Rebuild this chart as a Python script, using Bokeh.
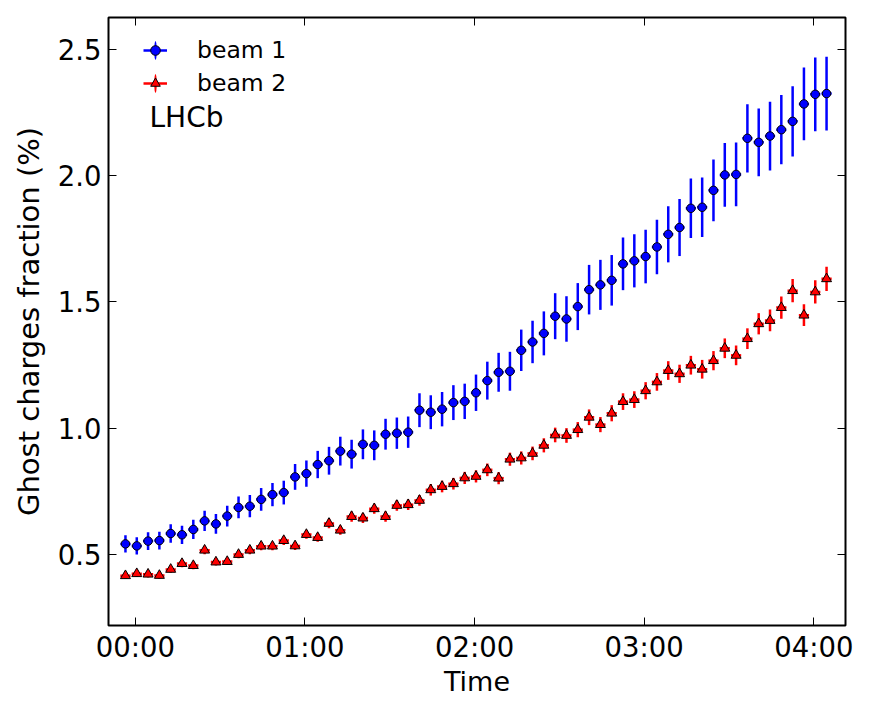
import math
from bokeh.plotting import figure
from bokeh.models import (ColumnDataSource, FixedTicker, LinearAxis, Range1d,
                          Legend, LegendItem, Label)
from bokeh.embed import file_html
from bokeh.resources import INLINE

# ---- data (time in minutes after 00:00) ----
time_min = [-3.5, 0.5, 4.5, 8.5, 12.5, 16.5, 20.5, 24.5, 28.5, 32.5, 36.5, 40.5,
            44.5, 48.5, 52.5, 56.5, 60.5, 64.5, 68.5, 72.5, 76.5, 80.5, 84.5, 88.5,
            92.5, 96.5, 100.5, 104.5, 108.5, 112.5, 116.5, 120.5, 124.5, 128.5,
            132.5, 136.5, 140.5, 144.5, 148.5, 152.5, 156.5, 160.5, 164.5, 168.5,
            172.5, 176.5, 180.5, 184.5, 188.5, 192.5, 196.5, 200.5, 204.5, 208.5,
            212.5, 216.5, 220.5, 224.5, 228.5, 232.5, 236.5, 240.5, 244.5]
time_halfwidth = [1.8] * len(time_min)

beam1 = [0.542, 0.534, 0.553, 0.555, 0.583, 0.578, 0.599, 0.633, 0.621, 0.652,
         0.686, 0.691, 0.718, 0.737, 0.745, 0.807, 0.820, 0.856, 0.871, 0.909,
         0.897, 0.936, 0.932, 0.976, 0.980, 0.984, 1.071, 1.063, 1.075, 1.101,
         1.106, 1.140, 1.188, 1.221, 1.225, 1.308, 1.341, 1.375, 1.443, 1.432,
         1.481, 1.548, 1.567, 1.585, 1.650, 1.662, 1.679, 1.717, 1.767, 1.794,
         1.870, 1.874, 1.941, 2.002, 2.004, 2.147, 2.131, 2.156, 2.181, 2.214,
         2.283, 2.321, 2.324]
beam1_err = [0.034, 0.034, 0.035, 0.035, 0.037, 0.036, 0.038, 0.040, 0.039, 0.041,
             0.043, 0.044, 0.045, 0.046, 0.047, 0.051, 0.052, 0.054, 0.055, 0.057,
             0.057, 0.059, 0.059, 0.061, 0.062, 0.062, 0.067, 0.067, 0.068, 0.069,
             0.070, 0.072, 0.075, 0.077, 0.077, 0.082, 0.084, 0.087, 0.091, 0.090,
             0.093, 0.098, 0.099, 0.100, 0.104, 0.105, 0.106, 0.108, 0.111, 0.113,
             0.118, 0.118, 0.122, 0.126, 0.126, 0.135, 0.134, 0.136, 0.137, 0.139,
             0.144, 0.146, 0.146]

beam2 = [0.416, 0.424, 0.422, 0.417, 0.441, 0.464, 0.456, 0.517, 0.470, 0.472,
         0.500, 0.517, 0.533, 0.533, 0.555, 0.534, 0.579, 0.567, 0.623, 0.596,
         0.650, 0.644, 0.681, 0.650, 0.694, 0.697, 0.714, 0.756, 0.769, 0.780,
         0.803, 0.809, 0.835, 0.802, 0.877, 0.882, 0.900, 0.932, 0.973, 0.971,
         0.994, 1.043, 1.014, 1.059, 1.105, 1.113, 1.148, 1.183, 1.228, 1.215,
         1.249, 1.233, 1.267, 1.316, 1.288, 1.354, 1.413, 1.426, 1.477, 1.544,
         1.447, 1.539, 1.591]
beam2_err = [0.012, 0.013, 0.013, 0.013, 0.013, 0.014, 0.014, 0.016, 0.014, 0.014,
             0.015, 0.016, 0.016, 0.016, 0.017, 0.016, 0.017, 0.017, 0.019, 0.018,
             0.020, 0.019, 0.020, 0.020, 0.021, 0.021, 0.021, 0.023, 0.023, 0.023,
             0.024, 0.024, 0.025, 0.024, 0.026, 0.026, 0.027, 0.028, 0.029, 0.029,
             0.030, 0.031, 0.030, 0.032, 0.033, 0.033, 0.034, 0.035, 0.037, 0.036,
             0.037, 0.037, 0.038, 0.039, 0.039, 0.041, 0.042, 0.043, 0.044, 0.046,
             0.043, 0.046, 0.048]

x_ticks = [0, 60, 120, 180, 240]
x_tick_labels = ["00:00", "01:00", "02:00", "03:00", "04:00"]
y_ticks = [0.5, 1.0, 1.5, 2.0, 2.5]
y_tick_labels = ["0.5", "1.0", "1.5", "2.0", "2.5"]

series_labels = ["beam 1", "beam 2"]

FONT = "DejaVu Sans"
BLUE = "#0000ff"
RED = "#ff0000"


def make_source(vals, errs):
    return ColumnDataSource(dict(
        t=time_min, v=vals,
        lo=[v - e for v, e in zip(vals, errs)],
        hi=[v + e for v, e in zip(vals, errs)],
        tl=[t - h for t, h in zip(time_min, time_halfwidth)],
        tr=[t + h for t, h in zip(time_min, time_halfwidth)],
    ))


p = figure(width=860, height=700, output_backend="svg", toolbar_location=None,
           x_range=Range1d(-9.5, 251.2), y_range=Range1d(0.219, 2.625),
           min_border_left=108, min_border_right=15, min_border_top=17,
           min_border_bottom=75)
p.grid.visible = False
p.background_fill_color = "white"
p.border_fill_color = "white"
p.outline_line_color = "black"
p.outline_line_width = 2
p.outline_line_alpha = 1.0

# main axes
xax = p.xaxis[0]
yax = p.yaxis[0]
xax.ticker = FixedTicker(ticks=x_ticks)
xax.major_label_overrides = {t: l for t, l in zip(x_ticks, x_tick_labels)}
yax.ticker = FixedTicker(ticks=y_ticks)
yax.major_label_overrides = {t: l for t, l in zip(y_ticks, y_tick_labels)}
xax.axis_label = "Time"
yax.axis_label = "Ghost charges fraction (%)"
for ax in (xax, yax):
    ax.axis_line_color = None
    ax.minor_tick_line_color = None
    ax.major_tick_in = 8
    ax.major_tick_out = 0
    ax.major_tick_line_color = "black"
    ax.major_tick_line_width = 1
    ax.major_label_text_font = FONT
    ax.major_label_text_font_size = "27.5px"
    ax.major_label_text_color = "black"
    ax.axis_label_text_font = FONT
    ax.axis_label_text_font_style = "normal"
    ax.axis_label_text_color = "black"
xax.axis_label_text_font_size = "27px"
yax.axis_label_text_font_size = "29px"
xax.major_label_standoff = 5
xax.axis_label_standoff = 0
yax.major_label_standoff = 7
yax.axis_label_standoff = 9

# mirrored tick marks on top and right (labels not drawn)
top = LinearAxis(ticker=FixedTicker(ticks=x_ticks))
right = LinearAxis(ticker=FixedTicker(ticks=y_ticks))
for ax in (top, right):
    ax.axis_line_color = None
    ax.minor_tick_line_color = None
    ax.major_tick_in = 8
    ax.major_tick_out = 0
    ax.major_tick_line_color = "black"
    ax.major_label_text_font_size = "1px"
    ax.major_label_text_color = None
    ax.major_label_standoff = 0
p.add_layout(top, "above")
p.add_layout(right, "right")

s1 = make_source(beam1, beam1_err)
s2 = make_source(beam2, beam2_err)

# beam 1
p.segment(x0="t", y0="lo", x1="t", y1="hi", source=s1, line_color=BLUE, line_width=2.5)
b1_h = p.segment(x0="tl", y0="v", x1="tr", y1="v", source=s1, line_color=BLUE, line_width=2.5)
b1_m = p.scatter(x="t", y="v", source=s1, marker="circle", size=8.5,
                 fill_color=BLUE, line_color="black", line_width=1)
# beam 2
p.segment(x0="t", y0="lo", x1="t", y1="hi", source=s2, line_color=RED, line_width=2.5)
b2_h = p.segment(x0="tl", y0="v", x1="tr", y1="v", source=s2, line_color=RED, line_width=2.5)
b2_m = p.scatter(x="t", y="v", source=s2, marker="triangle", size=10,
                 fill_color=RED, line_color="black", line_width=1)

# legend-only vertical bar handles (not drawn in the plot area)
e1 = p.ellipse(x=[math.nan], y=[math.nan], width=2.5, height=19.2,
               width_units="screen", height_units="screen",
               fill_color=BLUE, line_color=None)
e2 = p.ellipse(x=[math.nan], y=[math.nan], width=2.5, height=19.2,
               width_units="screen", height_units="screen",
               fill_color=RED, line_color=None)

legend = Legend(items=[
    LegendItem(label=series_labels[0], renderers=[b1_h, e1, b1_m]),
    LegendItem(label=series_labels[1], renderers=[b2_h, e2, b2_m]),
], location=(35, 528))
legend.glyph_width = 24
legend.glyph_height = 24
legend.label_standoff = 30
legend.label_text_font = FONT
legend.label_text_font_size = "23.5px"
legend.label_text_color = "black"
legend.spacing = 5
legend.padding = 0
legend.margin = 0
legend.border_line_color = None
legend.background_fill_alpha = 0
p.add_layout(legend)

p.add_layout(Label(x=41, y=508, x_units="screen", y_units="screen", text="LHCb",
                   text_font=FONT, text_font_size="28px", text_color="black",
                   text_baseline="alphabetic"))

open("out.html", "w").write(file_html(p, INLINE))
